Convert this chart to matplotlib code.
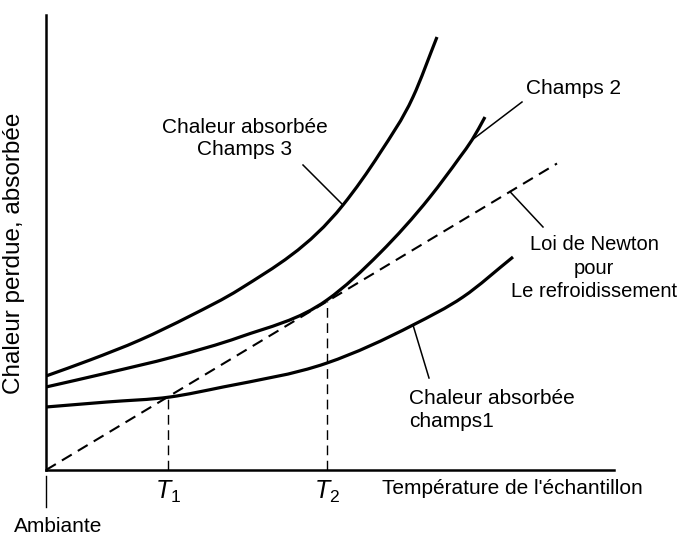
import matplotlib
matplotlib.use("Agg")
import matplotlib.pyplot as plt
from matplotlib.path import Path
from matplotlib.patches import PathPatch
import numpy as np

# heat curves read in plot units (1 unit = 50 px on both axes)
champs3_x = [0.00, 0.88, 1.88, 2.88, 3.88, 5.94, 6.68, 7.34, 7.82]
champs3_y = [1.88, 2.20, 2.60, 3.08, 3.62, 5.30, 6.34, 7.46, 8.66]

champs2_x = [0.00, 1.22, 2.54, 3.88, 5.62, 6.68, 7.68, 8.28, 8.52, 8.78]
champs2_y = [1.66, 1.94, 2.26, 2.66, 3.40, 4.34, 5.46, 6.26, 6.60, 7.06]

champs1_x = [0.00, 1.22, 2.48, 3.54, 5.62, 7.34, 8.34, 9.34]
champs1_y = [1.26, 1.36, 1.46, 1.66, 2.14, 2.90, 3.46, 4.26]

# Newton's cooling law: straight line from ambient
newton_x = [0.00, 10.22]
newton_y = [0.00, 6.13]

# characteristic temperatures
t_marks = [2.44, 5.62]
t_labels = [r"$T_1$", r"$T_2$"]

plt.rcParams["font.family"] = ["Liberation Sans", "DejaVu Sans"]
plt.rcParams["mathtext.fontset"] = "custom"
plt.rcParams["mathtext.it"] = "Liberation Sans:italic"
plt.rcParams["mathtext.rm"] = "Liberation Sans"


def smooth_path(xs, ys):
    """Cubic Hermite Bezier path through every given point (y as function of x)."""
    x = np.asarray(xs, float)
    y = np.asarray(ys, float)
    h = np.diff(x)
    d = np.diff(y) / h
    m = np.empty_like(x)
    m[0], m[-1] = d[0], d[-1]
    m[1:-1] = (h[1:] * d[:-1] + h[:-1] * d[1:]) / (h[:-1] + h[1:])
    verts = [(x[0], y[0])]
    codes = [Path.MOVETO]
    for i in range(len(x) - 1):
        verts += [(x[i] + h[i] / 3, y[i] + m[i] * h[i] / 3),
                  (x[i + 1] - h[i] / 3, y[i + 1] - m[i + 1] * h[i] / 3),
                  (x[i + 1], y[i + 1])]
        codes += [Path.CURVE4] * 3
    return Path(verts, codes)


fig = plt.figure(figsize=(6.81, 5.37), dpi=100)
ax = fig.add_axes([46 / 681, 67 / 537, 568 / 681, 455 / 537])
ax.set_xlim(0, 11.36)
ax.set_ylim(0, 9.1)

for side in ("top", "right"):
    ax.spines[side].set_visible(False)
for side in ("left", "bottom"):
    ax.spines[side].set_linewidth(1.8)
ax.set_xticks([])
ax.set_yticks([])

for cx, cy in [(champs3_x, champs3_y), (champs2_x, champs2_y),
               (champs1_x, champs1_y)]:
    ax.add_patch(PathPatch(smooth_path(cx, cy), facecolor="none",
                           edgecolor="black", lw=2.3, capstyle="butt"))
ax.plot(newton_x, newton_y, color="black", lw=1.5, dashes=(5.5, 3.4))

# vertical guides down from the intersections
slope = newton_y[1] / newton_x[1]
for t, lab in zip(t_marks, t_labels):
    ax.plot([t, t], [0, slope * t], color="black", lw=1.0, dashes=(7, 4))
    ax.text(t, -0.44, lab, ha="center", va="center", fontsize=18)

# leader lines from labels to curves
leader_kw = dict(color="black", lw=1.1)
ax.plot([5.14, champs3_x[5]], [6.10, champs3_y[5]], **leader_kw)
ax.plot([9.52, champs2_x[8]], [7.36, champs2_y[8]], **leader_kw)
ax.plot([9.94, 9.28], [4.86, slope * 9.28], **leader_kw)
ax.plot([7.66, champs1_x[5]], [1.84, champs1_y[5]], **leader_kw)

fs = 15
ax.text(3.98, 6.63, "Chaleur absorbée\nChamps 3", ha="center", va="center",
        fontsize=fs, linespacing=1.25)
ax.text(10.54, 7.64, "Champs 2", ha="center", va="center", fontsize=fs)
ax.text(10.96, 4.04, "Loi de Newton\npour\nLe refroidissement", ha="center",
        va="center", fontsize=14.5, linespacing=1.3, clip_on=False)
ax.text(7.26, 1.2, "Chaleur absorbée\nchamps1", ha="left", va="center",
        fontsize=fs, linespacing=1.25)
ax.text(6.72, -0.36, "Température de l'échantillon", ha="left", va="center",
        fontsize=fs, clip_on=False)

# ambient marker below the origin
ax.plot([0, 0], [-0.12, -0.74], color="black", lw=1.0, clip_on=False)
ax.text(0.24, -1.14, "Ambiante", ha="center", va="center", fontsize=fs,
        clip_on=False)

ax.set_ylabel("Chaleur perdue, absorbée", fontsize=17.5)
ax.yaxis.set_label_coords(-0.037, 0.477)

fig.savefig("out.png", dpi=100)
